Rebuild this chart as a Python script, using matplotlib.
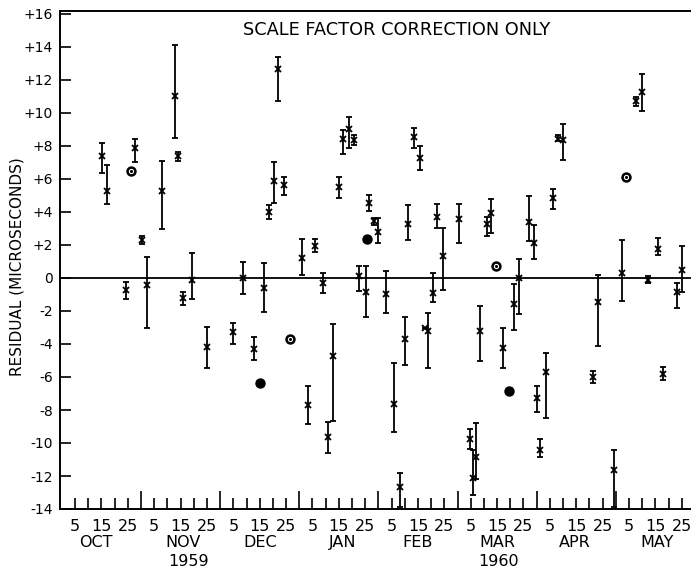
import matplotlib
matplotlib.use("Agg")
import matplotlib.pyplot as plt
from matplotlib import font_manager
import numpy as np

#----lettering: pick a narrow face if there is one
names = {f.name for f in font_manager.fontManager.ttflist}
face = next((c for c in ["Liberation Sans Narrow", "DejaVu Sans Condensed"] if c in names), "DejaVu Sans")
plt.rcParams["font.family"] = [face, "DejaVu Sans"]

#----data (t = days after 30 Sep 1959, each month drawn 30 days wide)
t = [15.1, 17.3, 24.2, 27.7, 30.3, 32.2, 37.9, 42.9, 43.9, 46.1,
     49.2, 55.2, 64.8, 68.6, 72.9, 76.7, 78.5, 80.6, 82.1, 84.2,
     91.2, 93.4, 96.0, 98.9, 101.0, 102.6, 105.1, 106.5, 108.8, 110.9,
     112.8, 115.2, 116.6, 118.5, 120.0, 122.9, 125.9, 128.2, 130.1, 131.4,
     133.6, 135.7, 137.7, 138.9, 140.8, 142.3, 144.4, 150.6, 154.7, 156.0,
     157.0, 158.5, 161.3, 162.7, 167.4, 171.5, 173.4, 177.2, 179.1, 180.2,
     181.3, 183.4, 186.3, 188.2, 190.1, 201.5, 203.4, 209.3, 212.5, 217.7,
     220.1, 222.1, 226.1, 228.0, 233.1, 235.0]
resid = [7.4, 5.3, -0.75, 7.85, 2.3, -0.4, 5.3, 11.0, 7.4, -1.2,
         -0.15, -4.2, -3.3, 0.0, -4.3, -0.6, 4.0, 5.85, 12.65, 5.65,
         1.2, -7.7, 1.95, -0.3, -9.65, -4.75, 5.5, 8.4, 9.05, 8.35,
         0.1, -0.85, 4.55, 3.45, 2.8, -0.95, -7.65, -12.65, -3.7, 3.3,
         8.55, 7.3, -3.05, -3.2, -0.9, 3.7, 1.35, 3.6, -9.75, -12.1,
         -10.85, -3.2, 3.25, 3.95, -4.25, -1.6, 0.0, 3.4, 2.15, -7.3,
         -10.4, -5.7, 4.85, 8.45, 8.35, -6.0, -1.45, -11.65, 0.3, 10.7,
         11.3, -0.1, 1.75, -5.8, -0.85, 0.5]
low = [6.35, 4.5, -1.3, 7.05, 2.05, -3.05, 2.95, 8.5, 7.1, -1.65,
       -1.3, -5.45, -4.0, -0.95, -4.95, -2.05, 3.6, 4.55, 10.7, 5.05,
       0.2, -8.85, 1.55, -0.9, -10.6, -8.65, 4.85, 7.5, 7.9, 8.05,
       -0.8, -2.35, 4.05, 3.2, 2.1, -2.15, -9.35, -13.85, -5.25, 2.3,
       7.9, 6.55, -3.05, -5.45, -1.45, 3.05, -0.7, 2.15, -10.35, -13.15,
       -12.2, -5.05, 2.55, 2.7, -5.45, -3.15, -2.2, 2.25, 1.15, -8.15,
       -10.85, -8.5, 4.2, 8.3, 7.15, -6.35, -4.1, -13.9, -1.4, 10.45,
       10.15, -0.3, 1.4, -6.2, -1.8, -0.85]
high = [8.2, 6.85, -0.25, 8.45, 2.55, 1.25, 7.1, 14.1, 7.65, -0.85,
        1.5, -3.0, -2.7, 0.95, -3.6, 0.9, 4.4, 7.05, 13.4, 6.15,
        2.35, -6.55, 2.35, 0.3, -8.7, -2.8, 6.1, 8.95, 9.75, 8.65,
        0.75, 0.75, 5.0, 3.65, 3.65, 0.4, -5.15, -11.8, -2.35, 4.4,
        9.1, 8.0, -3.05, -2.1, 0.3, 4.5, 3.05, 4.5, -9.15, -10.4,
        -8.8, -1.7, 3.7, 4.8, -3.05, -0.35, 1.15, 4.95, 3.2, -6.55,
        -9.75, -4.55, 5.4, 8.65, 9.35, -5.65, 0.2, -10.45, 2.3, 10.95,
        12.35, 0.1, 2.45, -5.4, -0.3, 1.95]

# big dots, ringed ones have a white ring inside
ring_t = [26.1, 86.5, 164.6, 213.9]
ring_val = [6.5, -3.7, 0.75, 6.1]
dot_t = [75.1, 115.6, 169.6]
dot_val = [-6.35, 2.35, -6.85]

months = ["OCT", "NOV", "DEC", "JAN", "FEB", "MAR", "APR", "MAY"]
month_x = [13, 46, 75, 106.5, 135, 165, 194.5, 225.5]
years = ["1959", "1960"]
year_x = [48, 165.5]
yticks = list(range(-14, 17, 2))
ylabels = [("+%d" % v if v > 0 else "%d" % v) for v in yticks]

#----figure
fig = plt.figure(figsize=(6.91, 5.73), dpi=100)
ax = fig.add_axes([60 / 691, 64 / 573, 631 / 691, 498.3 / 573])
ax.set_xlim(-0.7, 238.5)
ax.set_ylim(-14, 16.2)

ax.axhline(0, color="black", lw=1.3, zorder=1)

err = [np.array(resid) - np.array(low), np.array(high) - np.array(resid)]
ax.errorbar(t, resid, yerr=err, fmt="x", color="black", ms=4, mew=1.3,
            elinewidth=1.3, capsize=2.2, capthick=1.3, zorder=3)
ax.plot(dot_t, dot_val, "o", color="black", ms=6.5, zorder=4)
ax.plot(ring_t, ring_val, "o", color="black", ms=6.5, zorder=4)
ax.plot(ring_t, ring_val, "o", mfc="none", mec="white", ms=3, mew=0.8, zorder=5)

#----axes
for s in ["left", "bottom", "top"]:
    ax.spines[s].set_linewidth(1.4)
ax.spines["right"].set_visible(False)

ax.set_yticks(yticks, ylabels)
ax.tick_params(axis="y", direction="in", length=8, width=1.2, pad=5, labelsize=10)

edges = [30 * m for m in range(1, 8)]
five = [30 * m + d for m in range(8) for d in (5, 10, 15, 20, 25)]
five_lab = [("%d" % d if d in (5, 15, 25) else "") for m in range(8) for d in (5, 10, 15, 20, 25)]
ax.set_xticks(edges, [""] * len(edges))
ax.set_xticks(five, five_lab, minor=True)
ax.tick_params(axis="x", which="major", direction="in", length=13, width=1.2)
ax.tick_params(axis="x", which="minor", direction="in", length=8, width=1.2,
               pad=7, labelsize=11.5)

tr = ax.get_xaxis_transform()
for name, x in zip(months, month_x):
    ax.text(x, -0.068, name, transform=tr, ha="center", va="center", fontsize=11.5)
for name, x in zip(years, year_x):
    ax.text(x, -0.106, name, transform=tr, ha="center", va="center", fontsize=11.5)

ax.text(127, 15.0, "SCALE FACTOR CORRECTION ONLY", ha="center", va="center", fontsize=12.8)
ax.text(-0.0686, 0.486, "RESIDUAL (MICROSECONDS)", transform=ax.transAxes,
        rotation=90, ha="center", va="center", fontsize=11)

fig.savefig("out.png", dpi=100)
